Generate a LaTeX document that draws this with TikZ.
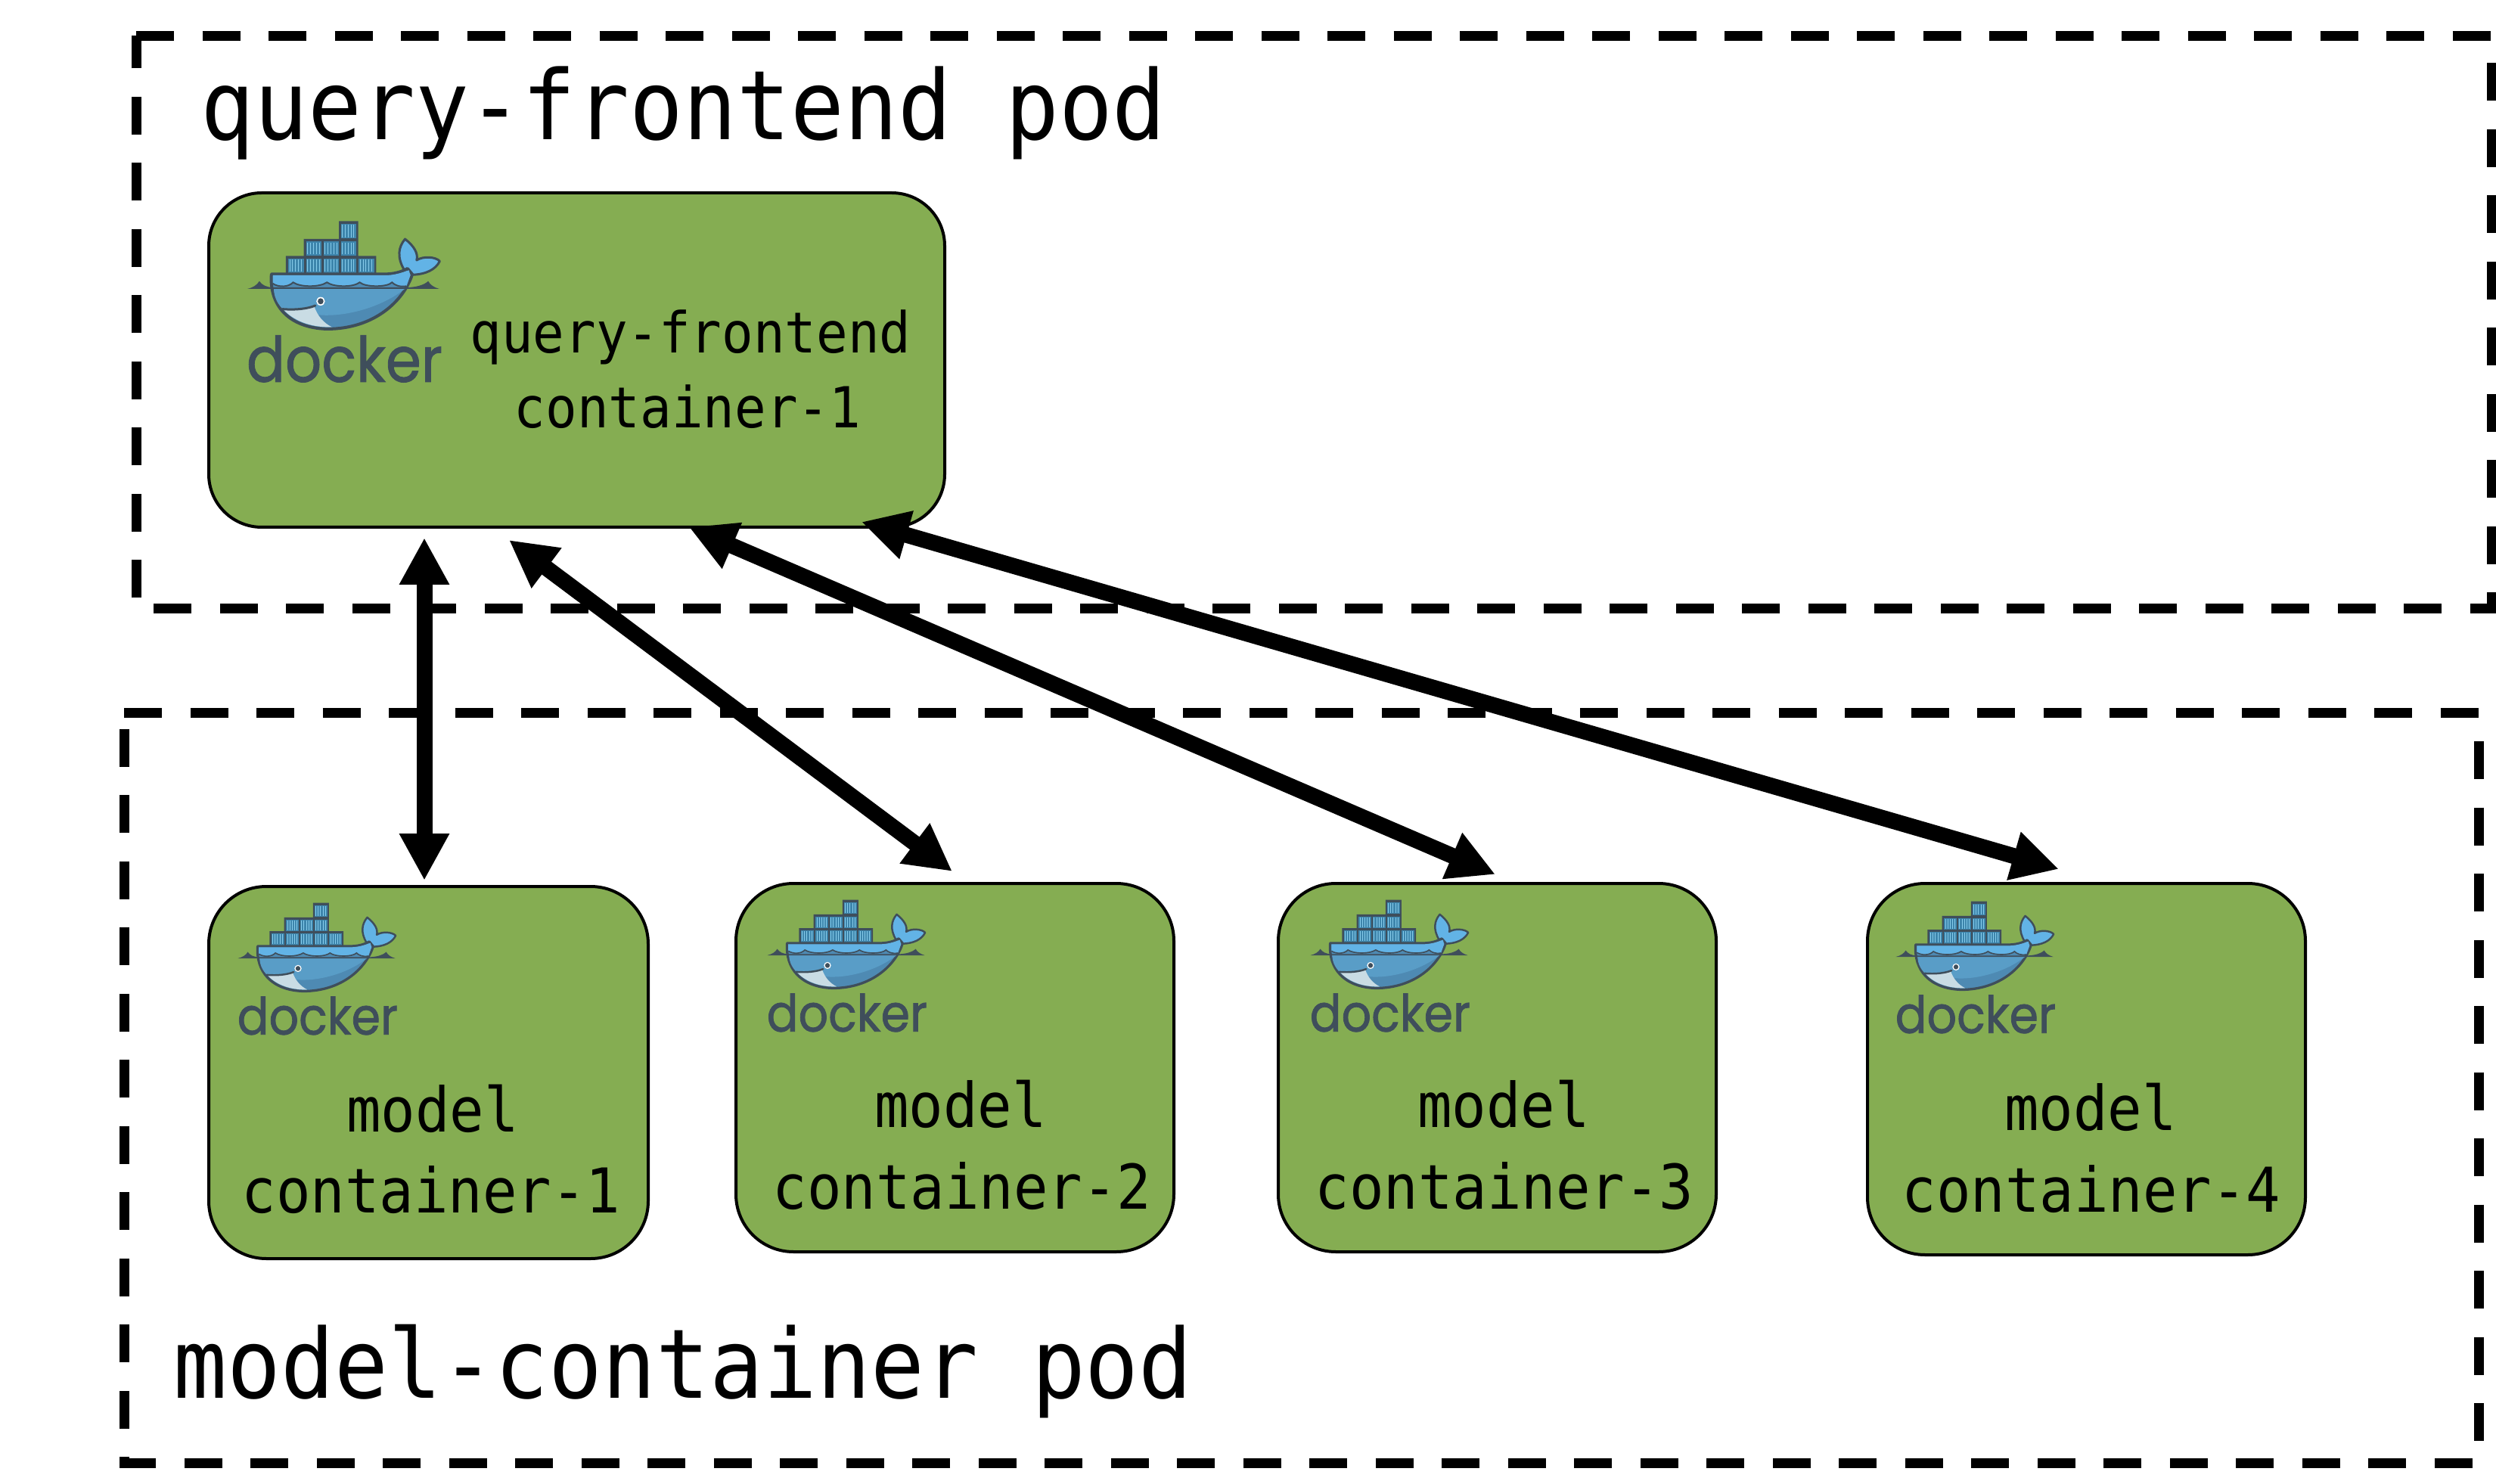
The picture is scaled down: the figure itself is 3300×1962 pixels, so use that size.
\documentclass[tikz,border=0pt]{standalone}
\usepackage{fontspec}
\usetikzlibrary{arrows.meta}
\newfontfamily\labelfont{DejaVu Sans Mono}
\newfontfamily\dockerfont[FakeBold=1.2]{Poppins}
\definecolor{boxgreen}{HTML}{85AD52}
\definecolor{dkdark}{HTML}{3F4E5B}
\definecolor{dkcell}{HTML}{3D85AC}
\definecolor{dkstripe}{HTML}{86CBEA}
\definecolor{dksky}{HTML}{62B3E6}
\definecolor{dkhull}{HTML}{4E8AB3}
\definecolor{dkhulllt}{HTML}{599DC7}
\definecolor{dkbelly}{HTML}{C9DCE4}
\newcommand{\tallpod}[1]{\scalebox{1}[1.08]{#1}}
\tikzset{
  pod/.style={line width=6.5pt,dash pattern=on 25pt off 18.75pt,line join=miter},
  ctr/.style={draw=black,fill=boxgreen,line width=2pt,rounded corners=38pt,inner sep=0pt,outer sep=0pt},
  qbox/.style={ctr,rounded corners=35pt},
  podlabel/.style={font=\labelfont\fontsize{58.9}{60}\selectfont,anchor=base west,inner sep=0pt},
  qlabel/.style={font=\labelfont\fontsize{34.6}{36}\selectfont,anchor=base,inner sep=0pt},
  mlabel/.style={font=\labelfont\fontsize{37.8}{38}\selectfont,anchor=base,inner sep=0pt},
  conn/.style={line width=10.5pt,{Triangle[length=31pt,width=31pt]}-{Triangle[length=31pt,width=31pt]}},
}
% #1 name, #2 origin x, #3 origin y, #4 scale
\newcommand{\dockerlogo}[4]{%
\begin{scope}[shift={(#2,#3)},xscale=0.6378*#4,yscale=0.3333*#4]
  % containers
  \fill[dkdark] (295,157) -- (335,157) -- (335,295) -- (372,295) -- (372,370) -- (185,370) -- (185,295) -- (222,295) -- (222,228) -- (295,228) -- cycle;
  \foreach \cx/\cy/\ch in {190/305/57,227/305/57,263/305/57,299/305/57,336/305/57,227/238/55,263/238/55,299/238/55,299/168/58}{
    \fill[dkcell] (\cx,\cy) rectangle ++(32,\ch);
    \foreach \sx in {3,9,15,21,27}{
      \draw[dkstripe,line width=0.45pt*#4] (\cx+\sx,\cy+4) -- ++(0,\ch-8);
    }
  }
  % tail
  \draw[dkdark,fill=dksky,line width=1.5pt*#4,line join=round]
    (430,350) .. controls (415,300) and (418,260) .. (432,228)
    .. controls (450,255) and (460,285) .. (456,312)
    .. controls (470,295) and (495,298) .. (504,316)
    .. controls (495,350) and (475,368) .. (447,370) -- cycle;
  % hull
  \draw[dkdark,fill=dkhull,line width=2pt*#4,line join=round]
    (155,367) -- (395,367) .. controls (415,365) and (428,355) .. (437,345)
    -- (447,368) .. controls (430,470) and (370,585) .. (270,585)
    .. controls (190,580) and (150,490) .. (155,367) -- cycle;
  \fill[dkhulllt] (160,425) -- (432,425) .. controls (390,490) and (320,535) .. (260,530)
    .. controls (220,525) and (185,510) .. (178,505) .. controls (165,480) and (160,450) .. (160,425) -- cycle;
  % upper band and waves
  \fill[dksky] (158,372) -- (395,372) .. controls (415,370) and (430,358) .. (440,352)
    -- (443,372) -- (435,415) .. controls (420,420) and (410,410) .. (405,400)
    .. controls (395,420) and (350,420) .. (338,400)
    .. controls (325,420) and (285,420) .. (270,400)
    .. controls (255,420) and (215,420) .. (200,400)
    .. controls (190,420) and (170,420) .. (158,405) -- cycle;
  \draw[dkdark,line width=1pt*#4]
    (158,405) .. controls (170,420) and (190,420) .. (200,400)
    .. controls (215,420) and (255,420) .. (270,400)
    .. controls (285,420) and (325,420) .. (338,400)
    .. controls (350,420) and (395,420) .. (405,400)
    .. controls (410,410) and (420,420) .. (435,415);
  % water line
  \fill[dkdark] (105,426) .. controls (118,420) and (125,410) .. (130,395) .. controls (135,410) and (145,420) .. (158,420)
    -- (435,420) .. controls (455,420) and (472,410) .. (480,395) .. controls (484,410) and (492,420) .. (503,426) -- cycle;
  % belly, mouth, eye
  \fill[dkbelly] (180,508) .. controls (205,510) and (230,505) .. (244,497)
    .. controls (250,530) and (262,560) .. (280,577) .. controls (235,580) and (200,550) .. (180,508) -- cycle;
  \draw[dkdark,line width=1.5pt*#4,line cap=round] (178,506) .. controls (205,510) and (230,505) .. (246,492);
  \fill[white] (257,475) ellipse (9 and 17);
  \fill[dkdark] (257,475) ellipse (6 and 12);
  % word mark
  \node[transform shape,anchor=south west,inner sep=0pt,text=dkdark] (#1) at (103,797)
    {\resizebox{203pt}{92pt}{\dockerfont docker}};
\end{scope}}
\begin{document}
\begin{tikzpicture}[x=0.5pt,y=-0.5pt]
  \useasboundingbox (0,0) rectangle (3300,1962);
  \fill[white] (0,0) rectangle (3300,1962);
  % pods
  \draw[pod] (180,47.5) -- (3294,47.5) -- (3294,805) -- (180,805) -- cycle;
  \draw[pod] (164,943) -- (3277,943) -- (3277,1934) -- (164,1934) -- cycle;
  \node[podlabel] (podq) at (265,185) {\tallpod{query-frontend pod}};
  \node[podlabel] (podm) at (229,1848) {\tallpod{model-container pod}};
  % containers
  \node[qbox,minimum width=486.5pt,minimum height=221pt] (q) at (762.5,476) {};
  \node[ctr,minimum width=290.5pt,minimum height=246pt] (m1) at (566.5,1418) {};
  \node[ctr,minimum width=289.5pt,minimum height=243.5pt] (m2) at (1262.5,1411.5) {};
  \node[ctr,minimum width=289.5pt,minimum height=243.5pt] (m3) at (1979.5,1411.5) {};
  \node[ctr,minimum width=289.5pt,minimum height=245.5pt] (m4) at (2758.5,1413.5) {};
  % logos
  \dockerlogo{dq}{260}{240}{1}
  \dockerlogo{d1}{259.6}{1150.6}{0.82}
  \dockerlogo{d2}{959.6}{1146.6}{0.82}
  \dockerlogo{d3}{1677.6}{1146.6}{0.82}
  \dockerlogo{d4}{2451.6}{1148.6}{0.82}
  % texts
  \node[qlabel] (tq1) at (913,467) {\tallpod{query-frontend}};
  \node[qlabel] (tq2) at (909,566) {\tallpod{container-1}};
  \node[mlabel] (t1a) at (572,1496) {\tallpod{model}};
  \node[mlabel] (t1b) at (570,1603) {\tallpod{container-1}};
  \node[mlabel] (t2a) at (1270,1490) {\tallpod{model}};
  \node[mlabel] (t2b) at (1272,1598) {\tallpod{container-2}};
  \node[mlabel] (t3a) at (1988,1490) {\tallpod{model}};
  \node[mlabel] (t3b) at (1989,1598) {\tallpod{container-3}};
  \node[mlabel] (t4a) at (2764,1494) {\tallpod{model}};
  \node[mlabel] (t4b) at (2765,1602) {\tallpod{container-4}};
  % connectors
  \draw[conn] ([shift={(-201.5,14)}]q.south) -- ([shift={(-5.5,-8)}]m1.north);
  \draw[conn] ([shift={(-89.5,17)}]q.south) -- ([shift={(-3.5,-16)}]m2.north);
  \draw[conn] ([shift={(148.5,0)}]q.south) -- ([shift={(-2.5,-12)}]m3.north);
  \draw[conn] ([shift={(376.5,-7)}]q.south) -- ([shift={(-36.5,-19)}]m4.north);
\end{tikzpicture}
\end{document}
